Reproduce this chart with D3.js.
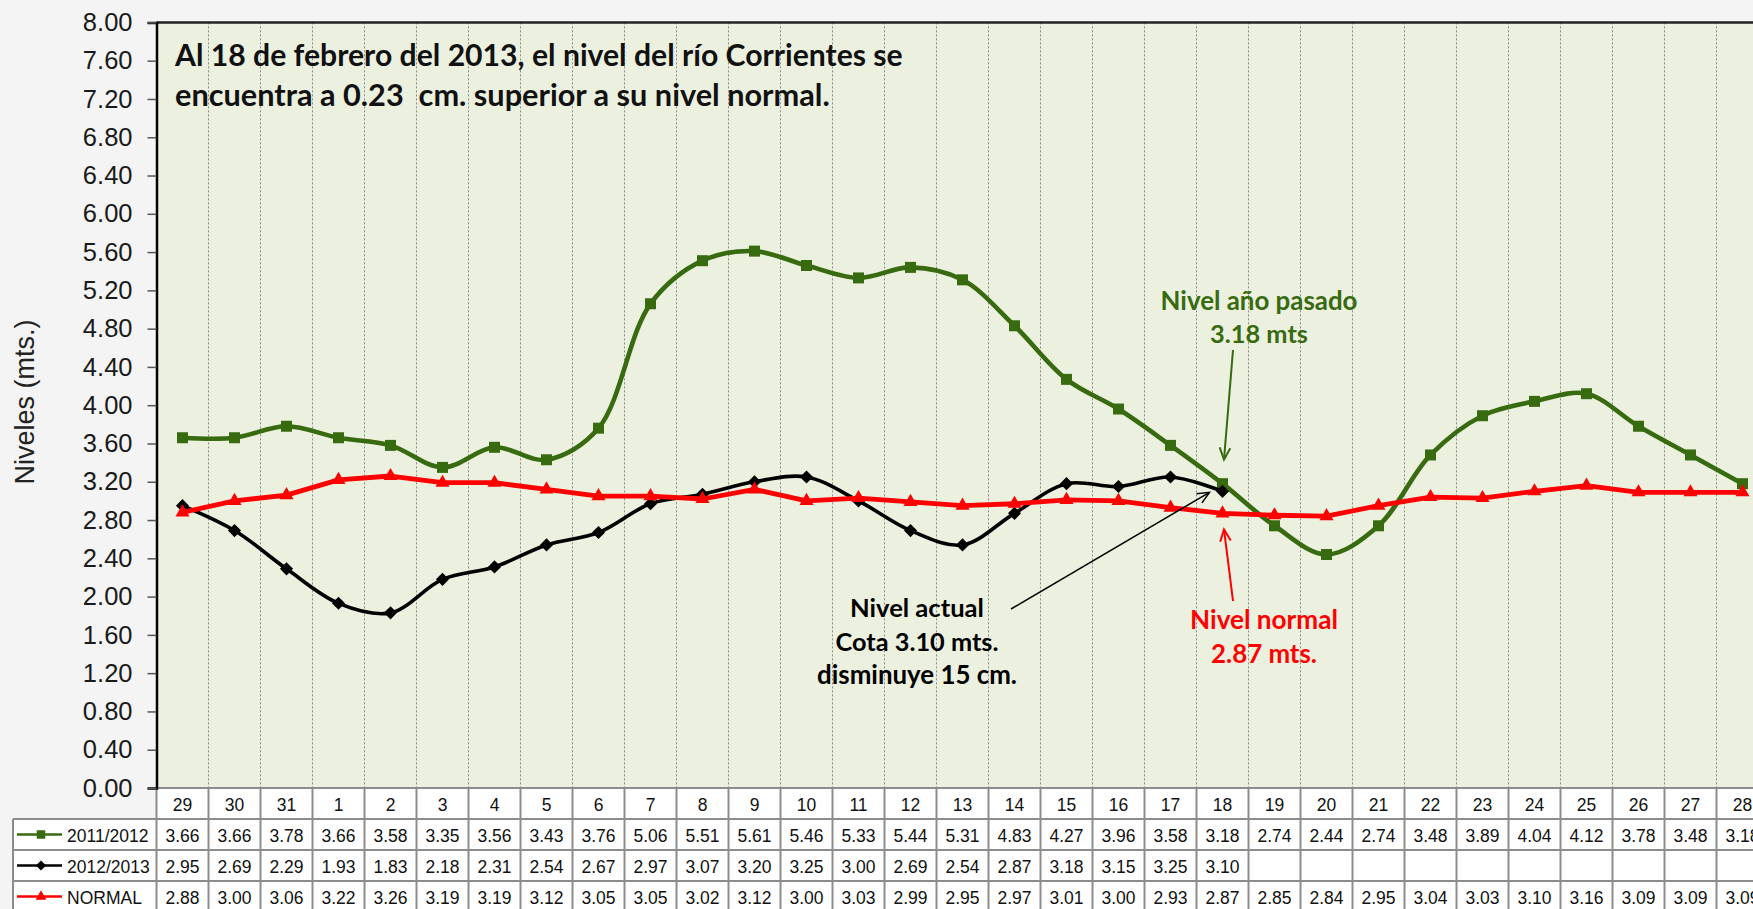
<!DOCTYPE html>
<html>
<head>
<meta charset="utf-8">
<script src="https://cdn.jsdelivr.net/npm/d3@7"></script>
<style>
  html, body { margin: 0; padding: 0; background: #f4f4f4; overflow: hidden; }
  svg { display: block; }
  text { white-space: pre; }
</style>
</head>
<body>
<svg id="chart" width="1753" height="909"></svg>
<script>
// ---- DATA ----
const categories = ["29","30","31","1","2","3","4","5","6","7","8","9","10","11","12","13","14","15","16","17","18","19","20","21","22","23","24","25","26","27","28"];
const seriesNames = ["2011/2012", "2012/2013", "NORMAL"];
const values2011 = [3.66,3.66,3.78,3.66,3.58,3.35,3.56,3.43,3.76,5.06,5.51,5.61,5.46,5.33,5.44,5.31,4.83,4.27,3.96,3.58,3.18,2.74,2.44,2.74,3.48,3.89,4.04,4.12,3.78,3.48,3.18];
const values2012 = [2.95,2.69,2.29,1.93,1.83,2.18,2.31,2.54,2.67,2.97,3.07,3.20,3.25,3.00,2.69,2.54,2.87,3.18,3.15,3.25,3.10,null,null,null,null,null,null,null,null,null,null];
const valuesNormal = [2.88,3.00,3.06,3.22,3.26,3.19,3.19,3.12,3.05,3.05,3.02,3.12,3.00,3.03,2.99,2.95,2.97,3.01,3.00,2.93,2.87,2.85,2.84,2.95,3.04,3.03,3.10,3.16,3.09,3.09,3.09];
const yTicks = [0,0.4,0.8,1.2,1.6,2.0,2.4,2.8,3.2,3.6,4.0,4.4,4.8,5.2,5.6,6.0,6.4,6.8,7.2,7.6,8.0];
const titleLines = ["Al 18 de febrero del 2013, el nivel del río Corrientes se", "encuentra a 0.23  cm. superior a su nivel normal."];
const yLabel = "Niveles (mts.)";
const annPasado = ["Nivel año pasado", "3.18 mts"];
const annActual = ["Nivel actual", "Cota 3.10 mts.", "disminuye 15 cm."];
const annNormal = ["Nivel normal", "2.87 mts."];
const annCategory = "18";

// ---- LAYOUT ----
const svg = d3.select("#chart");
const pLeft = 156.5, pTop = 22.4, pBottom = 788, bandW = 52;
const pRight = pLeft + bandW * categories.length;
const rowH = 31;
const tableLeft = 13;

const green = "#386a10", red = "#ff0000", black = "#000000";

const x = d3.scaleBand().domain(categories).range([pLeft, pRight]).paddingInner(0).paddingOuter(0);
const y = d3.scaleLinear().domain([0, 8]).range([pBottom, pTop]);
const cx = c => x(c) + x.bandwidth() / 2;

// plot background
svg.append("rect").attr("x", pLeft).attr("y", pTop).attr("width", pRight - pLeft).attr("height", pBottom - pTop)
  .attr("fill", "#ebf0df");

// vertical dotted grid lines at category boundaries
svg.append("g").selectAll("line").data(categories.slice(1)).join("line")
  .attr("x1", d => x(d)).attr("x2", d => x(d)).attr("y1", pTop).attr("y2", pBottom)
  .attr("stroke", "#8a8a8a").attr("stroke-width", 1).attr("stroke-dasharray", "2,2");

// top border
svg.append("line").attr("x1", pLeft).attr("x2", pRight).attr("y1", pTop).attr("y2", pTop)
  .attr("stroke", "#222").attr("stroke-width", 2.5);

// ---- TABLE ----
const tableTop = pBottom;
const tbl = svg.append("g");
tbl.append("rect").attr("x", pLeft).attr("y", tableTop).attr("width", pRight - pLeft).attr("height", rowH * 4)
  .attr("fill", "#ffffff");
tbl.append("rect").attr("x", tableLeft).attr("y", tableTop + rowH).attr("width", pLeft - tableLeft).attr("height", rowH * 3)
  .attr("fill", "#ffffff");
const gridC = "#8c8c8c";
tbl.append("line").attr("x1", pLeft).attr("x2", pRight).attr("y1", tableTop).attr("y2", tableTop).attr("stroke", gridC).attr("stroke-width", 2);
[1,2,3,4].forEach(r => {
  tbl.append("line").attr("x1", tableLeft).attr("x2", pRight).attr("y1", tableTop + r * rowH).attr("y2", tableTop + r * rowH)
    .attr("stroke", gridC).attr("stroke-width", 2);
});
tbl.selectAll("line.v").data(categories).join("line").attr("class", "v")
  .attr("x1", d => x(d) + x.bandwidth()).attr("x2", d => x(d) + x.bandwidth())
  .attr("y1", tableTop).attr("y2", tableTop + rowH * 4).attr("stroke", gridC).attr("stroke-width", 2);
tbl.append("line").attr("x1", pLeft).attr("x2", pLeft).attr("y1", tableTop).attr("y2", tableTop + rowH * 4).attr("stroke", gridC).attr("stroke-width", 2);
tbl.append("line").attr("x1", tableLeft).attr("x2", tableLeft).attr("y1", tableTop + rowH).attr("y2", tableTop + rowH * 4).attr("stroke", gridC).attr("stroke-width", 2);

const tFont = "'Liberation Sans', Arial, sans-serif";
const tSize = 17.5;
tbl.selectAll("text.cat").data(categories).join("text").attr("class", "cat")
  .attr("x", d => cx(d)).attr("y", tableTop + rowH / 2 + 1)
  .attr("text-anchor", "middle").attr("dominant-baseline", "central")
  .attr("font-family", tFont).attr("font-size", tSize).attr("fill", "#111").text(d => d);

const allSeries = [
  { name: seriesNames[0], values: values2011, color: green, marker: "square", width: 4.6, curve: d3.curveCatmullRom.alpha(0.5) },
  { name: seriesNames[1], values: values2012, color: black, marker: "diamond", width: 3.6, curve: d3.curveCatmullRom.alpha(0.5) },
  { name: seriesNames[2], values: valuesNormal, color: red, marker: "triangle", width: 4.8, curve: d3.curveLinear }
];

const symType = { square: d3.symbolSquare, diamond: d3.symbolDiamond2, triangle: d3.symbolTriangle };
const symSize = { square: 121, diamond: 110, triangle: 85 };

allSeries.forEach((s, i) => {
  const ry = tableTop + rowH * (i + 1) + rowH / 2;
  tbl.selectAll("text.v" + i).data(s.values.map((v, j) => ({ v, c: categories[j] })).filter(d => d.v != null))
    .join("text").attr("class", "v" + i)
    .attr("x", d => cx(d.c)).attr("y", ry + 1)
    .attr("text-anchor", "middle").attr("dominant-baseline", "central")
    .attr("font-family", tFont).attr("font-size", tSize).attr("fill", "#111")
    .text(d => d3.format(".2f")(d.v));
  tbl.append("line").attr("x1", 17).attr("x2", 62).attr("y1", ry).attr("y2", ry)
    .attr("stroke", s.color).attr("stroke-width", 2.5);
  tbl.append("path").attr("d", d3.symbol().type(symType[s.marker]).size(symSize[s.marker] * 0.6)())
    .attr("transform", `translate(41,${ry})`).attr("fill", s.color);
  tbl.append("text").attr("x", 67).attr("y", ry + 1).attr("dominant-baseline", "central")
    .attr("font-family", tFont).attr("font-size", tSize).attr("fill", "#111").text(s.name);
});

// ---- Y AXIS ----
const yAxis = d3.axisLeft(y).tickValues(yTicks).tickFormat(d3.format(".2f")).tickSize(9).tickPadding(15);
const gy = svg.append("g").attr("transform", `translate(${pLeft},0)`).call(yAxis);
gy.select(".domain").attr("stroke", "#000").attr("stroke-width", 2.5);
gy.selectAll(".tick line").attr("stroke", "#555").attr("stroke-width", 1.5);
gy.selectAll(".tick text").attr("font-family", tFont).attr("font-size", 25.5).attr("fill", "#1a1a1a");

// ---- TEXT HELPERS ----
function fitText(sel, target) {
  const w = sel.node().getComputedTextLength();
  const fs = parseFloat(sel.attr("font-size"));
  if (w > 0) sel.attr("font-size", fs * target / w);
}

const yl = svg.append("text").attr("transform", `translate(25,402) rotate(-90)`)
  .attr("text-anchor", "middle").attr("dominant-baseline", "central")
  .attr("font-family", tFont).attr("font-size", 22).attr("fill", "#222").text(yLabel);
fitText(yl, 165);

// ---- LINES ----
const plot = svg.append("g");
allSeries.forEach(s => {
  const pts = s.values.map((v, j) => ({ v, c: categories[j] })).filter(d => d.v != null);
  const line = d3.line().x(d => cx(d.c)).y(d => y(d.v)).curve(s.curve);
  plot.append("path").datum(pts).attr("d", line).attr("fill", "none")
    .attr("stroke", s.color).attr("stroke-width", s.width).attr("stroke-linejoin", "round");
  plot.selectAll(null).data(pts).join("path")
    .attr("d", d3.symbol().type(symType[s.marker]).size(symSize[s.marker])())
    .attr("transform", d => `translate(${cx(d.c)},${y(d.v)})`).attr("fill", s.color);
});

const aFont = "Lato, 'Open Sans', sans-serif";
const titleTargets = [728, 655];
titleLines.forEach((t, i) => {
  const tx = svg.append("text").attr("x", 175).attr("y", 54 + i * 40).attr("dominant-baseline", "central")
    .attr("font-family", aFont).attr("font-weight", "bold").attr("font-size", 26).attr("fill", "#111").text(t);
  fitText(tx, titleTargets[i]);
});

function annBlock(lines, cxp, ys, widths, color) {
  lines.forEach((t, i) => {
    const tx = svg.append("text").attr("x", cxp).attr("y", ys[i]).attr("text-anchor", "middle")
      .attr("dominant-baseline", "central").attr("font-family", aFont).attr("font-weight", "bold")
      .attr("font-size", 22).attr("fill", color).text(t);
    fitText(tx, widths[i]);
  });
}
annBlock(annPasado, 1259, [300, 333], [197, 98], green);
annBlock(annActual, 917, [607, 641, 674], [134, 163, 200], black);
annBlock(annNormal, 1264, [619, 653], [148, 106], red);

function arrow(x1, y1, x2, y2, color, w) {
  svg.append("line").attr("x1", x1).attr("y1", y1).attr("x2", x2).attr("y2", y2)
    .attr("stroke", color).attr("stroke-width", w);
  const ang = Math.atan2(y2 - y1, x2 - x1);
  const L = 13, spread = 0.42;
  const p = a => [x2 - L * Math.cos(a), y2 - L * Math.sin(a)];
  const a1 = p(ang - spread), a2 = p(ang + spread);
  svg.append("path").attr("d", `M${a1[0]},${a1[1]}L${x2},${y2}L${a2[0]},${a2[1]}`)
    .attr("fill", "none").attr("stroke", color).attr("stroke-width", w);
}
const ai = categories.indexOf(annCategory);
const ax = cx(annCategory);
arrow(1233, 350, ax + 1.5, y(values2011[ai]) - 24, green, 2);
arrow(1011, 609, ax - 13, y(values2012[ai]) + 1, black, 1.5);
arrow(1233, 601, ax + 1.5, y(valuesNormal[ai]) + 16, red, 2);
</script>
</body>
</html>
